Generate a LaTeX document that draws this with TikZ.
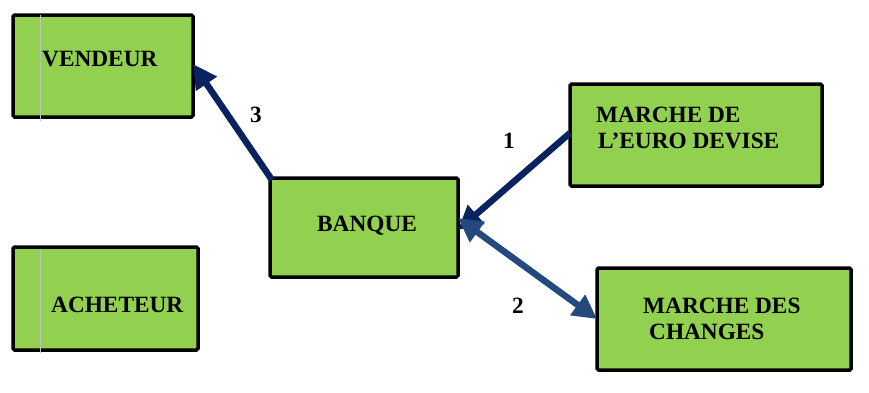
\documentclass[tikz,border=0pt]{standalone}
\usepackage{fontspec}
\setmainfont{Liberation Serif}
\usetikzlibrary{arrows.meta}
\definecolor{boxgreen}{HTML}{92D050}
\definecolor{navy}{HTML}{0B2260}
\definecolor{steel}{HTML}{24497F}
\tikzset{
  box/.style={draw=black, line width=3.5pt, fill=boxgreen, rounded corners=1.5pt,
    inner sep=0pt, outer sep=0pt},
  lbl/.style={inner sep=0pt, anchor=base west, font=\fontsize{23.3}{27}\selectfont\bfseries},
  flow/.style={line width=6.5pt, -{Triangle[length=24pt,width=24pt]}},
  flow2/.style={line width=6.5pt, {Triangle[length=24pt,width=24pt]}-{Triangle[length=24pt,width=24pt]}},
  margin/.style={draw=black!25, line width=1pt}
}
\begin{document}
\begin{tikzpicture}[x=1pt,y=-1pt]
\useasboundingbox (0,0) rectangle (869,392);

% boxes
\node[box, minimum width=180pt, minimum height=102pt] (vendeur) at (103,66) {};
\node[box, minimum width=188pt, minimum height=99pt] (banque) at (364,227.5) {};
\node[box, minimum width=252pt, minimum height=102pt] (euro) at (696,135) {};
\node[box, minimum width=185pt, minimum height=103pt] (acheteur) at (105.5,298.5) {};
\node[box, minimum width=254pt, minimum height=102pt] (changes) at (724,319) {};

% faint margin guide crossing the left boxes
\coordinate (g1) at (40.5,15);
\coordinate (g2) at (40.5,121);
\coordinate (g3) at (40.5,250);
\coordinate (g4) at (40.5,353);
\draw[margin] (g1) -- (g2);
\draw[margin] (g3) -- (g4);

% box texts
\node[lbl] (tv) at (42,66) {VENDEUR};
\node[lbl] (tb) at (317,231) {BANQUE};
\node[lbl] (ta) at (51,312) {ACHETEUR};
\node[lbl] (te1) at (596,122) {MARCHE DE};
\node[lbl] (te2) at (598,148) {L’EURO DEVISE};
\node[lbl] (tc1) at (643,313) {MARCHE DES};
\node[lbl] (tc2) at (649,339) {CHANGES};

% connectors
\draw[flow, navy] ([shift={(2,2)}]banque.north west) -- ([yshift=2]vendeur.east);
\draw[flow, navy] ([yshift=2]euro.west) -- ([yshift=-2.5]banque.east);
\draw[flow2, steel] ([yshift=9.5]banque.east) -- (changes.west);

% connector numbers
\node[lbl] (n3) at (250,122) {3};
\node[lbl] (n1) at (503,148) {1};
\node[lbl] (n2) at (512,313) {2};
\end{tikzpicture}
\end{document}
